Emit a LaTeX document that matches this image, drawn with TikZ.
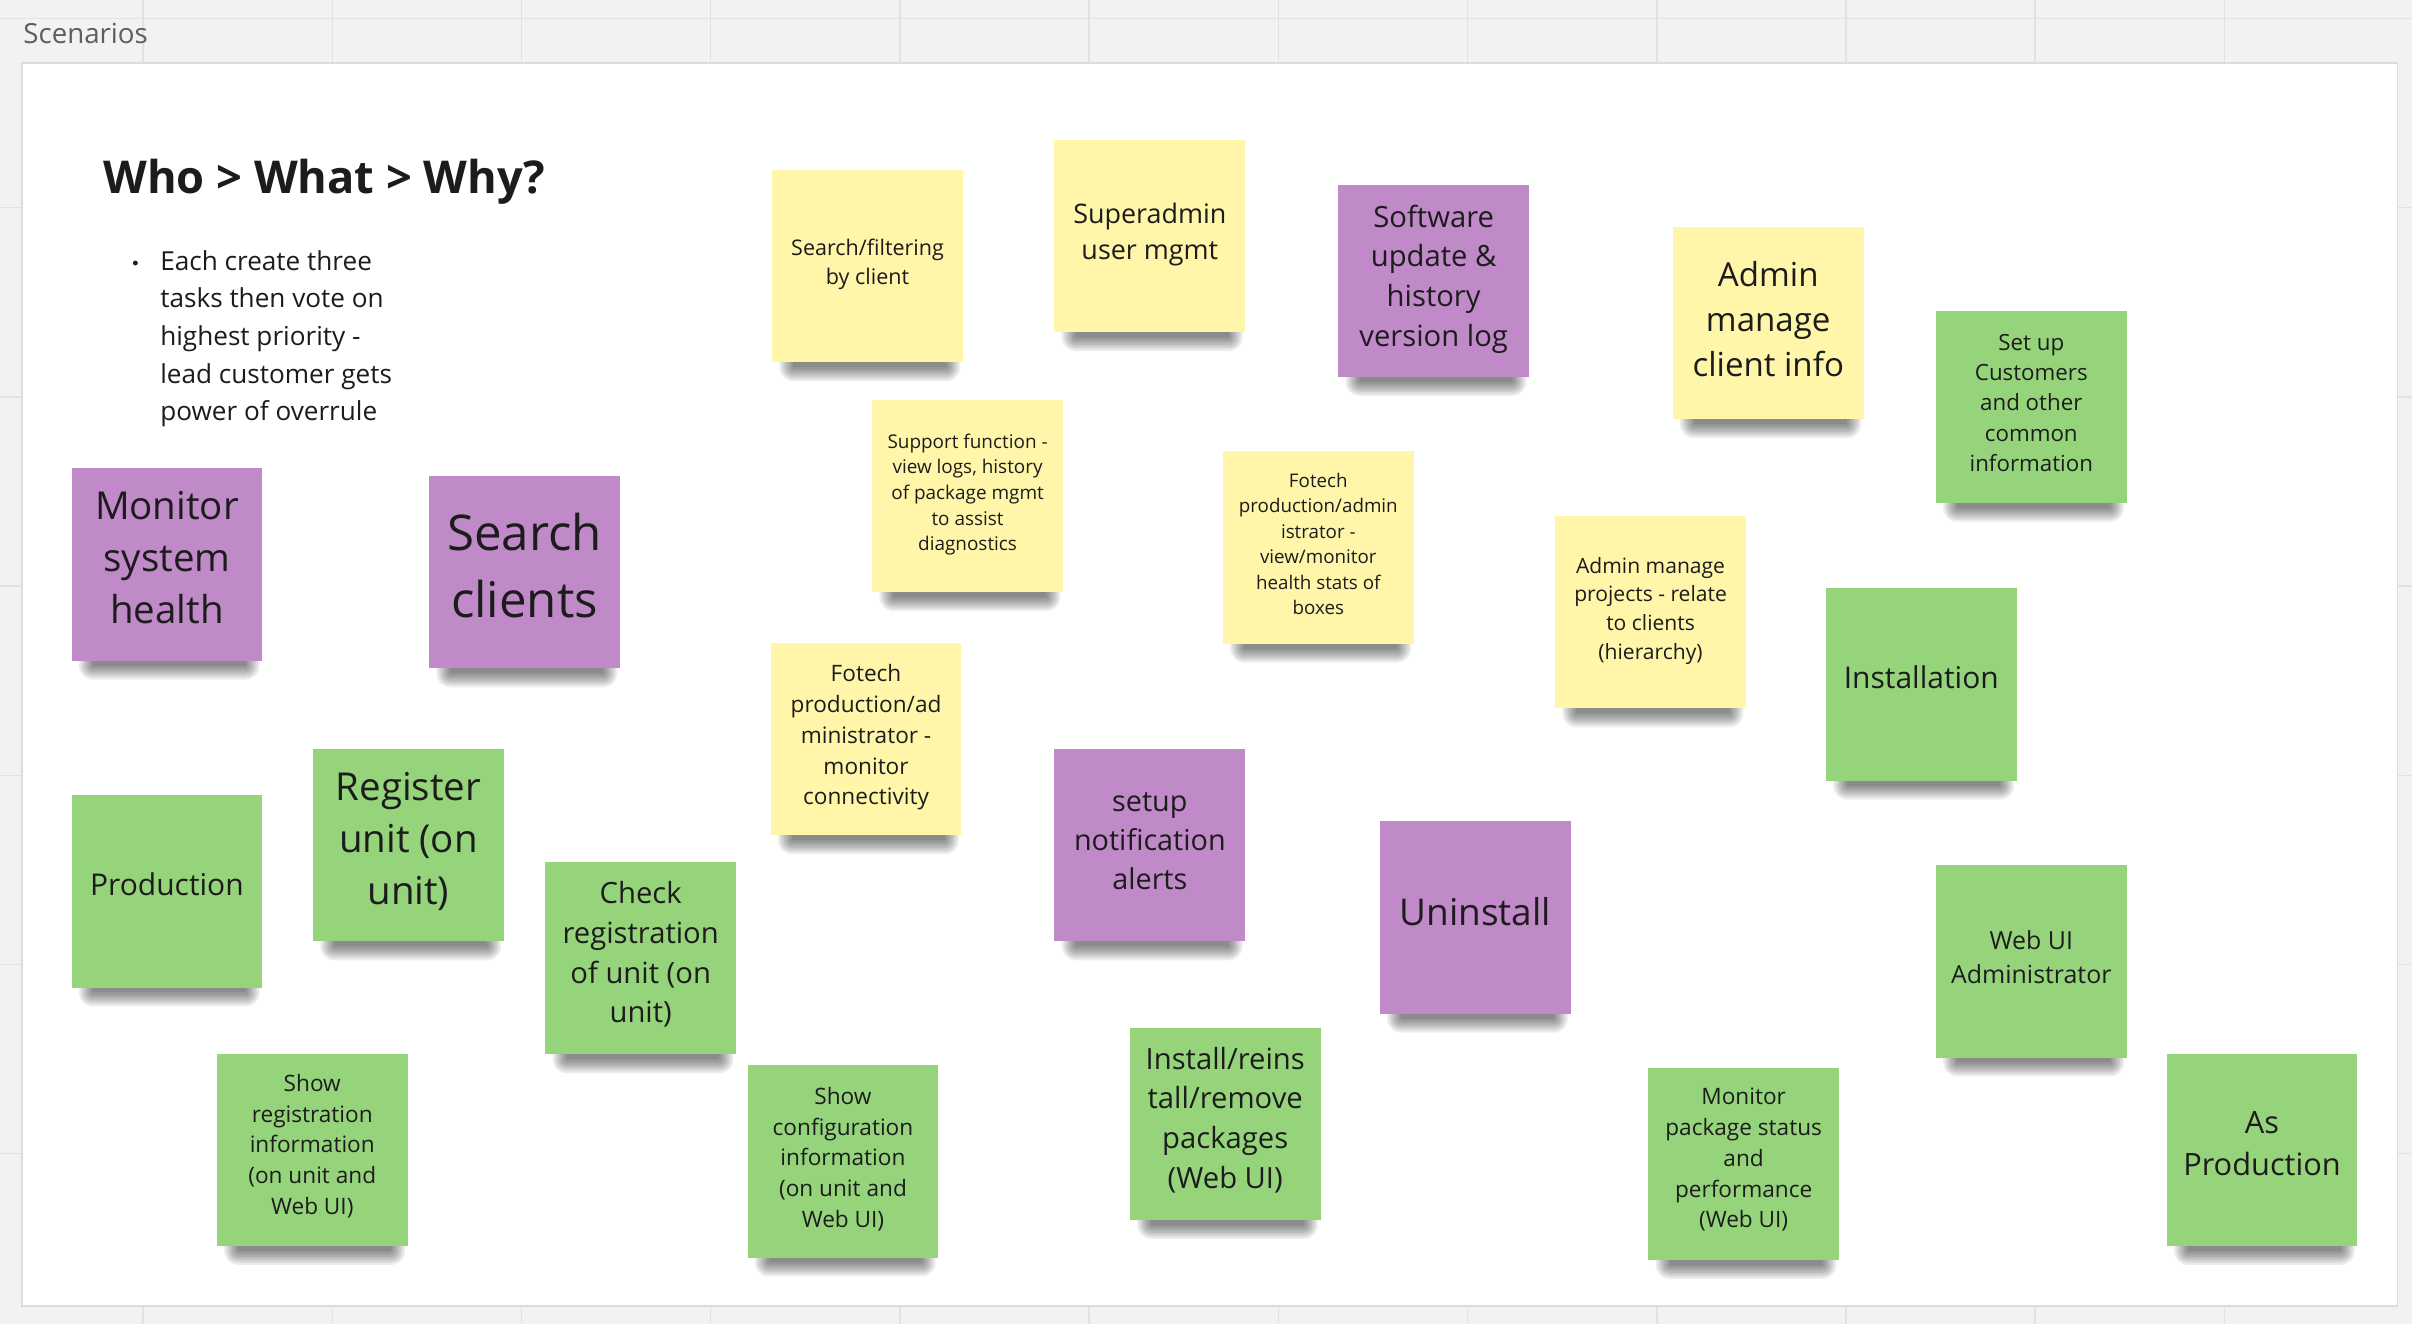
\documentclass[tikz,border=0pt]{standalone}
\usepackage{fontspec}
\setmainfont{Open Sans}
\usepackage{xcolor}
\definecolor{board}{HTML}{F2F2F2}
\definecolor{gridline}{HTML}{E2E2E2}
\definecolor{framegray}{HTML}{DCDCDC}
\definecolor{ink}{HTML}{1C1C1C}
\definecolor{labelgray}{HTML}{5E5E5E}
\definecolor{noteyellow}{HTML}{FFF6A9}
\definecolor{notepurple}{HTML}{C08AC8}
\definecolor{notegreen}{HTML}{96D47C}
\pgfdeclarelayer{boardlayer}
\pgfdeclarelayer{shadelayer}
\pgfsetlayers{boardlayer,shadelayer,main}
\tikzset{
  note/.style={minimum width=124pt,minimum height=125pt,inner sep=0pt},
  yellownote/.style={note,fill=noteyellow},
  purplenote/.style={note,fill=notepurple},
  greennote/.style={note,fill=notegreen},
  notetext/.style={align=center,text=ink,yshift=2.5pt,
                   font=\fontsize{#1}{\fpeval{1.36*#1}}\selectfont},
  noteshade/.style={fill=black,opacity=0.07,rounded corners=#1}
}

\begin{document}
\begin{tikzpicture}[x=1pt,y=-1pt]
  \useasboundingbox (0,0) rectangle (1568,861);
  \begin{pgfonlayer}{boardlayer}
    \fill[board] (0,0) rectangle (1568,861);
    \foreach \gx in {93,216,...,1569} {
      \draw[gridline,line width=1pt] (\gx,0) -- (\gx,861);
    }
    \foreach \gy in {12,135,...,861} {
      \draw[gridline,line width=1pt] (0,\gy) -- (1568,\gy);
    }
    \draw[framegray,fill=white,line width=1pt] (14.3,41) rectangle (1558.5,849);
  \end{pgfonlayer}

  \node[anchor=base west,inner sep=0pt,text=labelgray,font=\fontsize{18}{22}\selectfont] (scen) at (15,28) {Scenarios};
  \node[anchor=base west,inner sep=0pt,text=ink,font=\fontsize{29.4}{35}\selectfont\bfseries] (title) at (67,126) {Who > What > Why?};
  \node[circle,fill=ink,inner sep=0pt,minimum size=3.2pt] (dot) at (88,171) {};
  \node[anchor=north west,align=left,inner sep=0pt,text=ink,font=\fontsize{17}{24.5}\selectfont] (rule) at (104,162.5)
    {Each create three\\tasks then vote on\\highest priority -\\lead customer gets\\power of overrule};

  \node[yellownote,label={[notetext=14,yshift=-1.5pt]center:{Search/filtering\\by client}}] (filter) at (564,173) {};
  \node[yellownote,label={[notetext=17.5,yshift=-1.5pt]center:{Superadmin\\user mgmt}}] (superadmin) at (747.5,153.5) {};
  \node[purplenote,label={[notetext=19,yshift=-1.5pt]center:{Software\\update \&\\history\\version log}}] (software) at (932,182.5) {};
  \node[yellownote,label={[notetext=21.5]center:{Admin\\manage\\client info}}] (clientinfo) at (1149.5,210) {};
  \node[greennote,label={[notetext=14.5]center:{Set up\\Customers\\and other\\common\\information}}] (customers) at (1320.5,264.5) {};
  \node[yellownote,label={[notetext=12.3,yshift=-1.5pt]center:{Support function -\\view logs, history\\of package mgmt\\to assist\\diagnostics}}] (support) at (629,322.5) {};
  \node[yellownote,label={[notetext=12.2]center:{Fotech\\production/admin\\istrator -\\view/monitor\\health stats of\\boxes}}] (healthstats) at (857,356) {};
  \node[yellownote,label={[notetext=13.7,yshift=-1.5pt]center:{Admin manage\\projects - relate\\to clients\\(hierarchy)}}] (projects) at (1073,398) {};
  \node[purplenote,label={[notetext=25,yshift=2pt]center:{Monitor\\system\\health}}] (monitor) at (108.5,367) {};
  \node[purplenote,label={[notetext=32,yshift=2pt]center:{Search\\clients}}] (search) at (341,372) {};
  \node[greennote,label={[notetext=19.5,yshift=2pt]center:{Installation}}] (install) at (1249,445) {};
  \node[yellownote,label={[notetext=14.7,yshift=-1.5pt]center:{Fotech\\production/ad\\ministrator -\\monitor\\connectivity}}] (connect) at (563,480.5) {};
  \node[purplenote,label={[notetext=18.7]center:{setup\\notification\\alerts}}] (alerts) at (747.5,549.5) {};
  \node[greennote,label={[notetext=19.5,yshift=2pt]center:{Production}}] (production) at (108.5,579.5) {};
  \node[greennote,label={[notetext=25]center:{Register\\unit (on\\unit)}}] (register) at (265.5,549.5) {};
  \node[greennote,label={[notetext=19]center:{Check\\registration\\of unit (on\\unit)}}] (check) at (416.5,623) {};
  \node[purplenote,label={[notetext=24,yshift=1.5pt]center:{Uninstall}}] (uninstall) at (959,596.5) {};
  \node[greennote,label={[notetext=16.2]center:{Web UI\\Administrator}}] (webadmin) at (1320.5,625) {};
  \node[greennote,label={[notetext=14.7]center:{Show\\registration\\information\\(on unit and\\Web UI)}}] (showreg) at (203,747.5) {};
  \node[greennote,label={[notetext=14.7,yshift=-1pt]center:{Show\\configuration\\information\\(on unit and\\Web UI)}}] (showconf) at (548,755) {};
  \node[greennote,label={[notetext=19]center:{Install/reins\\tall/remove\\packages\\(Web UI)}}] (packages) at (796.5,730.5) {};
  \node[greennote,label={[notetext=14.7]center:{Monitor\\package status\\and\\performance\\(Web UI)}}] (pkgstatus) at (1133.5,756.5) {};
  \node[greennote,label={[notetext=20,yshift=1.5pt]center:{As\\Production}}] (asprod) at (1470.5,747.5) {};

  \begin{pgfonlayer}{shadelayer}
    \foreach \n in {filter,superadmin,software,clientinfo,customers,support,healthstats,projects,
                    monitor,search,install,connect,alerts,production,register,check,uninstall,
                    webadmin,showreg,showconf,packages,pkgstatus,asprod} {
      \foreach \k in {0,...,7} {
        \path[noteshade=\k*1.3pt] ([xshift=14pt-\k*1.3pt,yshift=-3pt-\k*1.3pt]\n.south west)
          rectangle ([xshift=-11pt+\k*1.3pt]\n.east);
      }
    }
  \end{pgfonlayer}
\end{tikzpicture}
\end{document}
